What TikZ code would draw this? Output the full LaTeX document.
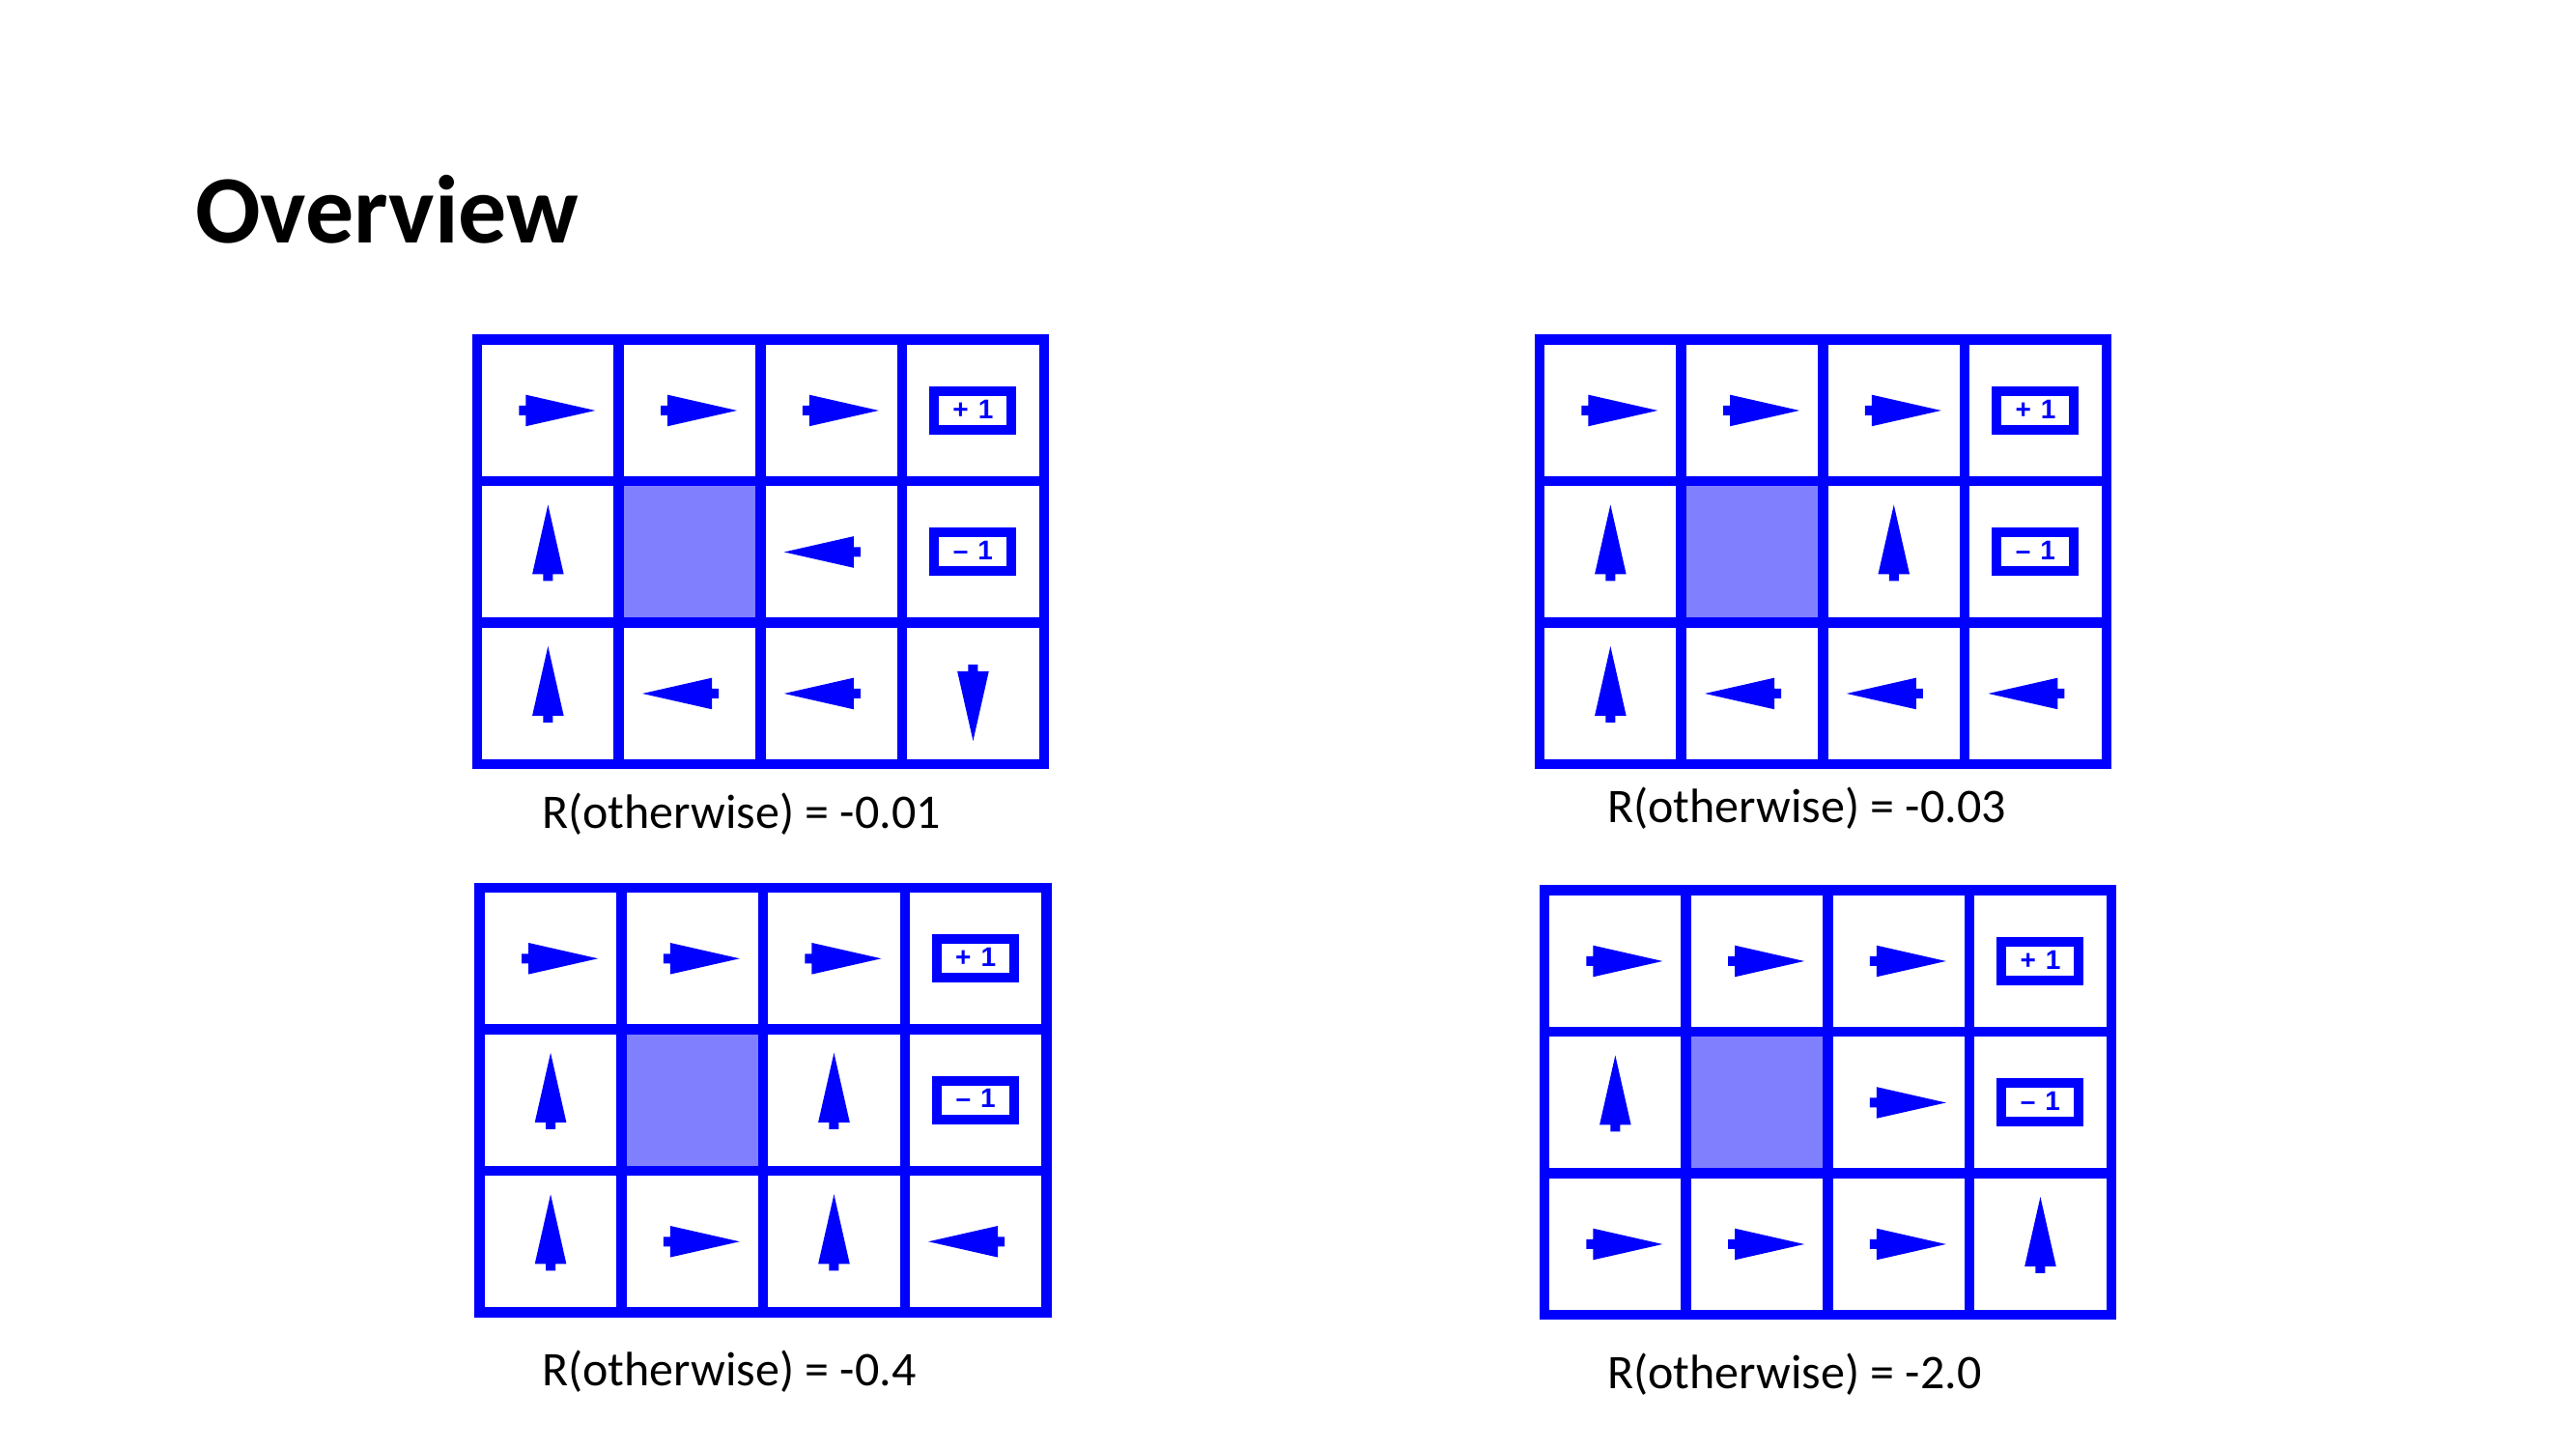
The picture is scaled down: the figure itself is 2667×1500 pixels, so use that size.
\documentclass[tikz,border=0pt]{standalone}
\usepackage{fontspec}
\setmainfont{Carlito}
\newfontfamily\boxfont{Liberation Sans}
\definecolor{gridblue}{RGB}{0,0,255}
\definecolor{wallblue}{RGB}{128,128,255}
\def\cw{146.7}
\def\ch{146.5}
\tikzset{
  gridline/.style={draw=gridblue, line width=10.5pt},
  wallfill/.style={fill=wallblue},
  rewardbox/.style={draw=gridblue, line width=10pt, minimum width=80pt, minimum height=40pt, inner sep=0pt,
    text=gridblue, font=\boxfont\bfseries\fontsize{28}{28}\selectfont},
  caption/.style={anchor=base west, font=\fontsize{50}{50}\selectfont, inner sep=0pt},
  pics/polarrow/.style={code={
    \fill[gridblue] (-30,-5) -- (-23,-5) -- (-23,-16.3) -- (49,0) -- (-23,16.3) -- (-23,5) -- (-30,5) -- cycle;}},
}
\newcommand\policygrid[4]{%
  \begin{scope}[shift={(#2,#3)}]
    \fill[wallfill] (\cw,\ch) rectangle (2*\cw,2*\ch);
    \draw[gridline] (0,0) rectangle (4*\cw,3*\ch);
    \foreach \k in {1,2,3} \draw[gridline] (\k*\cw,0) -- (\k*\cw,3*\ch);
    \foreach \k in {1,2} \draw[gridline] (0,\k*\ch) -- (4*\cw,\k*\ch);
    \node[rewardbox] (#1-plus) at (3.5*\cw,0.5*\ch) {\raisebox{3pt}{+\hspace{10pt}1}};
    \node[rewardbox] (#1-minus) at (3.5*\cw,1.5*\ch) {\raisebox{3pt}{–\hspace{10pt}1}};
    \foreach \c/\r/\a in {#4} \pic[rotate=\a] at ({(\c+0.5)*\cw},{(\r+0.5)*\ch}) {polarrow};
  \end{scope}}
\begin{document}
\begin{tikzpicture}[x=1pt, y=-1pt]
  \fill[white] (0,0) rectangle (2667,1500);
  \useasboundingbox (0,0) rectangle (2667,1500);
  \node[anchor=base west, inner sep=0pt, font=\bfseries\fontsize{100}{100}\selectfont] (title) at (202,251) {Overview};
  \policygrid{g1}{494}{351.7}{0/0/0,1/0/0,2/0/0,0/1/90,2/1/180,0/2/90,1/2/180,2/2/180,3/2/270}
  \policygrid{g2}{1594}{351.7}{0/0/0,1/0/0,2/0/0,0/1/90,2/1/90,0/2/90,1/2/180,2/2/180,3/2/180}
  \policygrid{g3}{496.7}{919}{0/0/0,1/0/0,2/0/0,0/1/90,2/1/90,0/2/90,1/2/0,2/2/90,3/2/180}
  \policygrid{g4}{1599}{921.7}{0/0/0,1/0/0,2/0/0,0/1/90,2/1/0,0/2/0,1/2/0,2/2/0,3/2/90}
  \node[caption] (cap1) at (561,857.3) {R(otherwise) = -0.01};
  \node[caption] (cap2) at (1664,851) {R(otherwise) = -0.03};
  \node[caption] (cap3) at (561,1434) {R(otherwise) = -0.4};
  \node[caption] (cap4) at (1664,1437) {R(otherwise) = -2.0};
\end{tikzpicture}
\end{document}
